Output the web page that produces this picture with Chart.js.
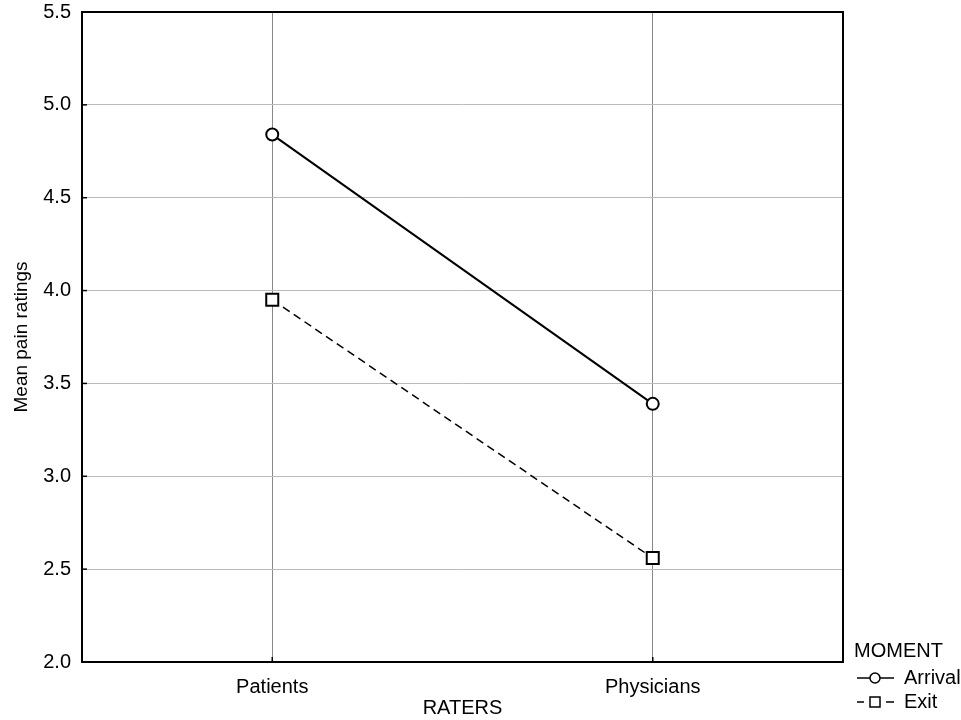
<!DOCTYPE html>
<html>
<head>
<meta charset="utf-8">
<script src="https://cdn.jsdelivr.net/npm/chart.js@4/dist/chart.umd.min.js"></script>
<style>
  html, body { margin: 0; padding: 0; background: #fff; }
  #wrap { width: 961px; height: 720px; position: relative; }
</style>
</head>
<body>
<div id="wrap"><canvas id="c" width="961" height="720"></canvas></div>
<script>
// Mean pain ratings by rater, at arrival and at exit
const raters = ['Patients', 'Physicians'];
const arrival = [4.84, 3.39];
const exitRatings = [3.95, 2.56];
const yTicks = [2.0, 2.5, 3.0, 3.5, 4.0, 4.5, 5.0, 5.5];

const FONT = '"Liberation Sans", Arial, sans-serif';

// Frame around the plot area plus the MOMENT legend in the lower right
const framePlugin = {
  id: 'frameAndLegend',
  afterDraw(chart) {
    const { ctx, chartArea: a } = chart;
    ctx.save();
    ctx.strokeStyle = '#000';
    ctx.lineWidth = 2;
    ctx.setLineDash([]);
    ctx.strokeRect(a.left, a.top, a.right - a.left, a.bottom - a.top);

    // small inward tick marks on both axes
    const ys = chart.scales.y;
    ctx.lineWidth = 1.5;
    yTicks.forEach(v => {
      const py = ys.getPixelForValue(v);
      ctx.beginPath();
      ctx.moveTo(a.left, py);
      ctx.lineTo(a.left + 5, py);
      ctx.stroke();
    });
    const xs = chart.scales.x;
    raters.forEach((r, i) => {
      const px = xs.getPixelForValue(i);
      ctx.beginPath();
      ctx.moveTo(px, a.bottom);
      ctx.lineTo(px, a.bottom - 5);
      ctx.stroke();
    });

    // legend
    ctx.fillStyle = '#000';
    ctx.font = '20px ' + FONT;
    ctx.textBaseline = 'middle';
    ctx.textAlign = 'left';
    const lx = a.right + 11;
    ctx.fillText('MOMENT', lx, 651);
    ctx.fillText('Arrival', lx + 50, 678);
    ctx.fillText('Exit', lx + 50, 702);

    ctx.lineWidth = 1.5;
    // Arrival sample: solid line with circle
    ctx.beginPath();
    ctx.moveTo(lx + 3, 678); ctx.lineTo(lx + 40, 678);
    ctx.stroke();
    ctx.beginPath();
    ctx.arc(lx + 21, 678, 5, 0, Math.PI * 2);
    ctx.fillStyle = '#fff'; ctx.fill(); ctx.stroke();
    // Exit sample: dashed line with square
    ctx.beginPath();
    ctx.moveTo(lx + 3, 702); ctx.lineTo(lx + 10, 702);
    ctx.moveTo(lx + 32, 702); ctx.lineTo(lx + 40, 702);
    ctx.stroke();
    ctx.fillStyle = '#fff';
    ctx.fillRect(lx + 16, 697, 10, 10);
    ctx.strokeRect(lx + 16, 697, 10, 10);
    ctx.restore();
  }
};

new Chart(document.getElementById('c'), {
  type: 'line',
  data: {
    labels: raters,
    datasets: [
      {
        label: 'Arrival',
        data: arrival,
        borderColor: '#000',
        borderWidth: 2,
        pointStyle: 'circle',
        pointRadius: 6,
        pointBorderWidth: 2,
        pointBackgroundColor: '#fff',
        pointBorderColor: '#000',
        tension: 0
      },
      {
        label: 'Exit',
        data: exitRatings,
        borderColor: '#000',
        borderWidth: 1.5,
        borderDash: [8, 5],
        pointStyle: 'rect',
        pointRadius: 8.5,
        pointBorderWidth: 2,
        pointBackgroundColor: '#fff',
        pointBorderColor: '#000',
        tension: 0
      }
    ]
  },
  options: {
    responsive: false,
    animation: false,
    devicePixelRatio: 1,
    layout: { padding: { top: 12, right: 118, left: 0, bottom: 0 } },
    plugins: { legend: { display: false }, tooltip: { enabled: false } },
    scales: {
      x: {
        offset: true,
        grid: { color: '#888', lineWidth: 1, drawTicks: false, offset: false },
        border: { display: false },
        ticks: { color: '#000', font: { family: FONT, size: 20 }, padding: 13 },
        title: {
          display: true, text: 'RATERS', color: '#000',
          font: { family: FONT, size: 20 }, padding: { top: 0, bottom: 0 }
        },
        afterFit(s) { s.height = 58; s.paddingLeft = 0; s.paddingRight = 0; }
      },
      y: {
        min: 2.0,
        max: 5.5,
        afterBuildTicks(s) { s.ticks = yTicks.map(v => ({ value: v })); },
        grid: { color: '#bbb', lineWidth: 1, drawTicks: false },
        border: { display: false },
        ticks: {
          color: '#000', font: { family: FONT, size: 20 }, padding: 11,
          callback: v => Number(v).toFixed(1)
        },
        title: {
          display: true, text: 'Mean pain ratings', color: '#000',
          font: { family: FONT, size: 19 }, padding: { top: 10, bottom: 0 }
        },
        afterFit(s) { s.width = 82; s.paddingTop = 0; s.paddingBottom = 0; }
      }
    }
  },
  plugins: [framePlugin]
});
</script>
</body>
</html>
